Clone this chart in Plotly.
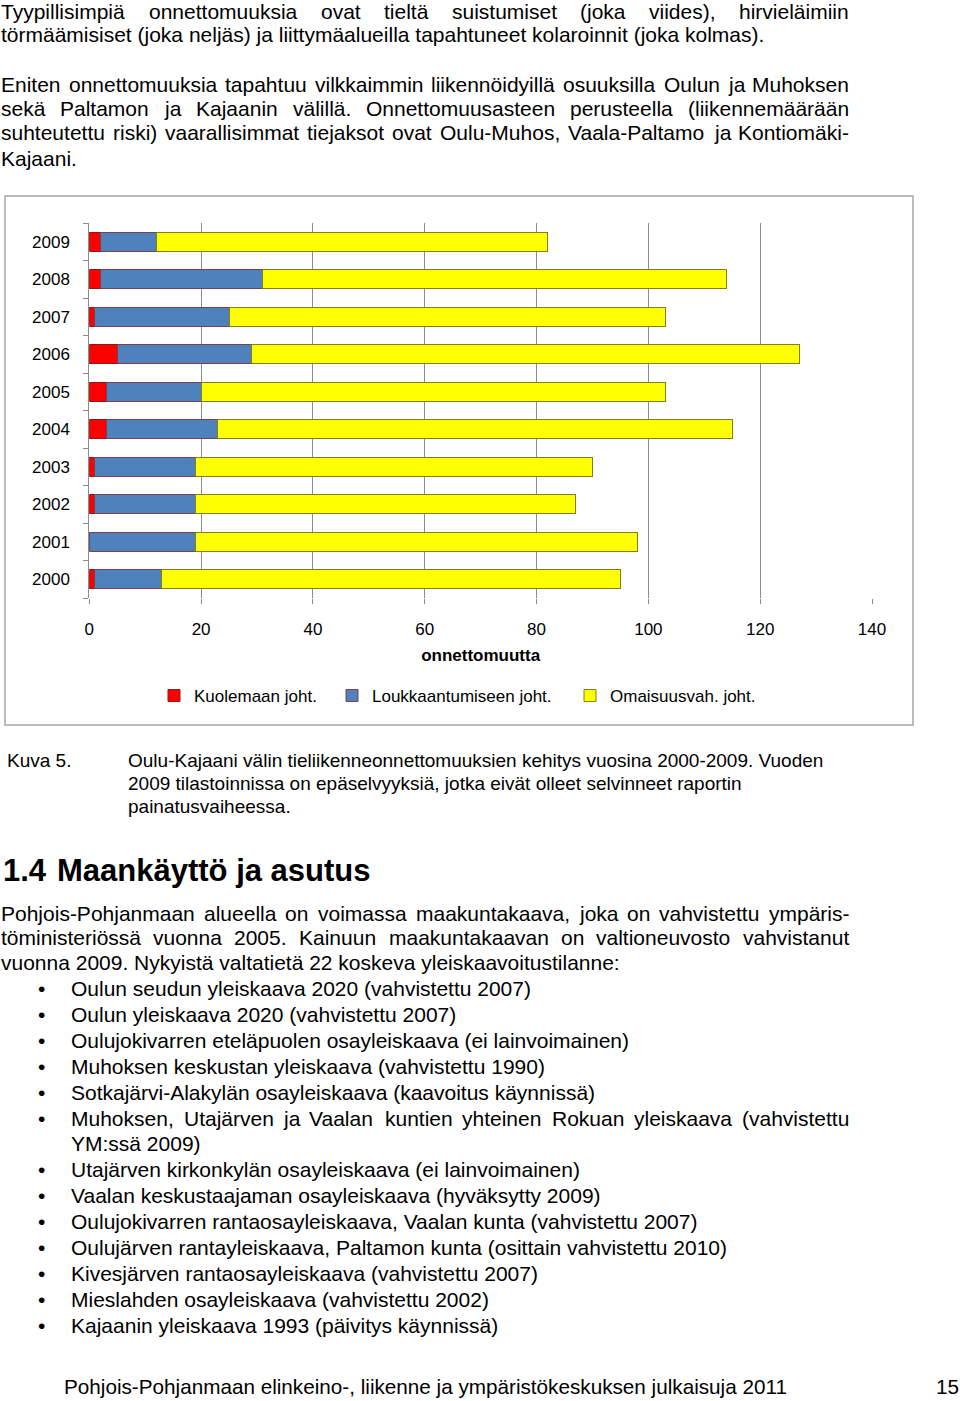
import plotly.graph_objects as go

# ---------------- data ----------------
years = ["2000", "2001", "2002", "2003", "2004", "2005", "2006", "2007", "2008", "2009"]
kuolemaan = [1, 0, 1, 1, 3, 3, 5, 1, 2, 2]
loukkaantumiseen = [12, 19, 18, 18, 20, 17, 24, 24, 29, 10]
omaisuusvah = [82, 79, 68, 71, 92, 83, 98, 78, 83, 70]
series_names = ["Kuolemaan joht.", "Loukkaantumiseen joht.", "Omaisuusvah. joht."]
x_ticks = [0, 20, 40, 60, 80, 100, 120, 140]
x_title = "onnettomuutta"

para1 = ["Tyypillisimpiä onnettomuuksia ovat tieltä suistumiset (joka viides), hirvieläimiin",
         "törmäämisiset (joka neljäs) ja liittymäalueilla tapahtuneet kolaroinnit (joka kolmas)."]
para2 = ["Eniten onnettomuuksia tapahtuu vilkkaimmin liikennöidyillä osuuksilla Oulun ja Muhoksen",
         "sekä Paltamon ja Kajaanin välillä. Onnettomuusasteen perusteella (liikennemäärään",
         "suhteutettu riski) vaarallisimmat tiejaksot ovat Oulu-Muhos, Vaala-Paltamo ja Kontiomäki-",
         "Kajaani."]
caption_label = "Kuva 5."
caption = ["Oulu-Kajaani välin tieliikenneonnettomuuksien kehitys vuosina 2000-2009. Vuoden",
           "2009 tilastoinnissa on epäselvyyksiä, jotka eivät olleet selvinneet raportin",
           "painatusvaiheessa."]
heading_num = "1.4"
heading_text = "Maankäyttö ja asutus"
para3 = ["Pohjois-Pohjanmaan alueella on voimassa maakuntakaava, joka on vahvistettu ympäris-",
         "töministeriössä vuonna 2005. Kainuun maakuntakaavan on valtioneuvosto vahvistanut",
         "vuonna 2009. Nykyistä valtatietä 22 koskeva yleiskaavoitustilanne:"]
bullets = [
    ["Oulun seudun yleiskaava 2020 (vahvistettu 2007)"],
    ["Oulun yleiskaava 2020 (vahvistettu 2007)"],
    ["Oulujokivarren eteläpuolen osayleiskaava (ei lainvoimainen)"],
    ["Muhoksen keskustan yleiskaava (vahvistettu 1990)"],
    ["Sotkajärvi-Alakylän osayleiskaava (kaavoitus käynnissä)"],
    ["Muhoksen, Utajärven ja Vaalan kuntien yhteinen Rokuan yleiskaava (vahvistettu",
     "YM:ssä 2009)"],
    ["Utajärven kirkonkylän osayleiskaava (ei lainvoimainen)"],
    ["Vaalan keskustaajaman osayleiskaava (hyväksytty 2009)"],
    ["Oulujokivarren rantaosayleiskaava, Vaalan kunta (vahvistettu 2007)"],
    ["Oulujärven rantayleiskaava, Paltamon kunta (osittain vahvistettu 2010)"],
    ["Kivesjärven rantaosayleiskaava (vahvistettu 2007)"],
    ["Mieslahden osayleiskaava (vahvistettu 2002)"],
    ["Kajaanin yleiskaava 1993 (päivitys käynnissä)"],
]
footer = "Pohjois-Pohjanmaan elinkeino-, liikenne ja ympäristökeskuksen julkaisuja 2011"
page_no = "15"

# ---------------- page helpers ----------------
W, H = 960, 1401
FONT = "Liberation Sans, Arial, sans-serif"

def px(x):
    return x / W

def py(y):
    return 1 - y / H

# Arial / Helvetica advance widths (1/1000 em)
_w = {}
for c in "abdeghnopquäöå0123456789":
    _w[c] = 556
for c in "ijl":
    _w[c] = 222
for c in "ckszvxy":
    _w[c] = 500
_w.update({"f": 278, "t": 278, "r": 333, "m": 833, "w": 722, " ": 278, "(": 333, ")": 333,
           ",": 278, ".": 278, "-": 333, ":": 278, ";": 278})
_w.update({"A": 667, "B": 667, "C": 722, "D": 722, "E": 667, "F": 611, "G": 778, "H": 722,
           "I": 278, "J": 500, "K": 667, "L": 556, "M": 833, "N": 722, "O": 778, "P": 667,
           "Q": 778, "R": 722, "S": 667, "T": 611, "U": 722, "V": 667, "W": 944, "X": 667,
           "Y": 667, "Z": 611})

def text_width(s, size):
    return sum(_w.get(c, 556) for c in s) * size / 1000.0

annotations = []

def add_text(text, x, y, size, anchor="left", bold=False):
    t = f"<b>{text}</b>" if bold else text
    annotations.append(dict(text=t, x=px(x), y=py(y), xref="paper", yref="paper",
                            xanchor=anchor, yanchor="middle", showarrow=False,
                            borderpad=0, borderwidth=0,
                            font=dict(family=FONT, size=size, color="#000000")))

def add_justified(text, x0, x1, y, size):
    words = text.split(" ")
    widths = [text_width(w, size) for w in words]
    gap = (x1 - x0 - sum(widths)) / (len(words) - 1)
    x = x0
    for wd, wdw in zip(words, widths):
        add_text(wd, x, y, size)
        x += wdw + gap

BODY = 21
RIGHT = 849

# paragraph 1
add_justified(para1[0], 1, RIGHT, 12, BODY)
add_text(para1[1], 1, 34, BODY)
# paragraph 2
for line, y in zip(para2[:3], [84, 108, 133]):
    add_justified(line, 1, RIGHT, y, BODY)
add_text(para2[3], 1, 158, BODY)
# caption
add_text(caption_label, 7, 761, 19)
for line, y in zip(caption, [761, 783, 806]):
    add_text(line, 128, y, 19)
# heading
add_text(heading_num, 3, 870, 31, bold=True)
add_text(heading_text, 57, 870, 31, bold=True)
# paragraph 3
add_justified(para3[0], 1, RIGHT, 913, BODY)
add_justified(para3[1], 1, RIGHT, 937, BODY)
add_text(para3[2], 1, 962, BODY)
# bullets
yb = [988, 1014, 1040, 1066, 1092, 1118, 1169, 1195, 1221, 1247, 1273, 1299, 1325]
for item, y in zip(bullets, yb):
    add_text("•", 41, y, BODY, anchor="center")
    if len(item) == 1:
        add_text(item[0], 71, y, BODY)
    else:
        add_justified(item[0], 71, RIGHT, y, BODY)
        add_text(item[1], 71, y + 25, BODY)
# footer
add_text(footer, 64, 1386, 20.7)
add_text(page_no, 959, 1386, 20.7, anchor="right")

# ---------------- chart ----------------
fig = go.Figure()
colors = ["#FF0000", "#4F81BD", "#FFFF00"]
edges = ["#8B1A1A", "#7B3F4F", "#7F7F1F"]
legends = ["legend", "legend2", "legend3"]
for vals, name, col, edge, lg in zip([kuolemaan, loukkaantumiseen, omaisuusvah],
                                     series_names, colors, edges, legends):
    fig.add_trace(go.Bar(y=years, x=vals, name=name, orientation="h",
                         marker=dict(color=col, line=dict(color=edge, width=1)),
                         legend=lg, showlegend=True))

x0p, x1p = 89.3, 872
ytop, ybot = 223, 598

leg_common = dict(orientation="h", yanchor="middle", y=py(696), xanchor="left",
                  bgcolor="rgba(0,0,0,0)", borderwidth=0,
                  font=dict(family=FONT, size=17, color="#000000"))

fig.update_layout(
    width=W, height=H,
    margin=dict(l=0, r=0, t=0, b=0),
    paper_bgcolor="white", plot_bgcolor="white",
    barmode="stack", bargap=0.5,
    showlegend=True,
    annotations=annotations,
    legend=dict(x=px(154), **leg_common),
    legend2=dict(x=px(332), **leg_common),
    legend3=dict(x=px(570), **leg_common),
    shapes=[dict(type="rect", xref="paper", yref="paper",
                 x0=px(5), x1=px(913), y0=py(725), y1=py(196),
                 line=dict(color="#A6A6A6", width=1.5), fillcolor="rgba(0,0,0,0)", layer="below")],
    xaxis=dict(domain=[px(x0p), px(x1p)], range=[0, 140], tickvals=x_ticks,
               showgrid=True, gridcolor="#8C8C8C", gridwidth=1, zeroline=False,
               showline=False, ticks="outside", ticklen=5, tickcolor="#8C8C8C",
               ticklabelstandoff=11, automargin=False,
               tickfont=dict(family=FONT, size=17, color="#000000"),
               title=dict(text=f"<b>{x_title}</b>", standoff=10,
                          font=dict(family=FONT, size=17, color="#000000"))),
    yaxis=dict(domain=[py(ybot), py(ytop)], type="category",
               showline=True, linecolor="#8C8C8C", linewidth=1,
               ticks="outside", ticklen=5, tickcolor="#8C8C8C", tickson="boundaries",
               ticklabelstandoff=15, automargin=False, showgrid=False,
               tickfont=dict(family=FONT, size=17, color="#000000")),
)

fig.write_html("out.html", config={"displayModeBar": False},
               post_script="document.body.style.margin='0px';")
